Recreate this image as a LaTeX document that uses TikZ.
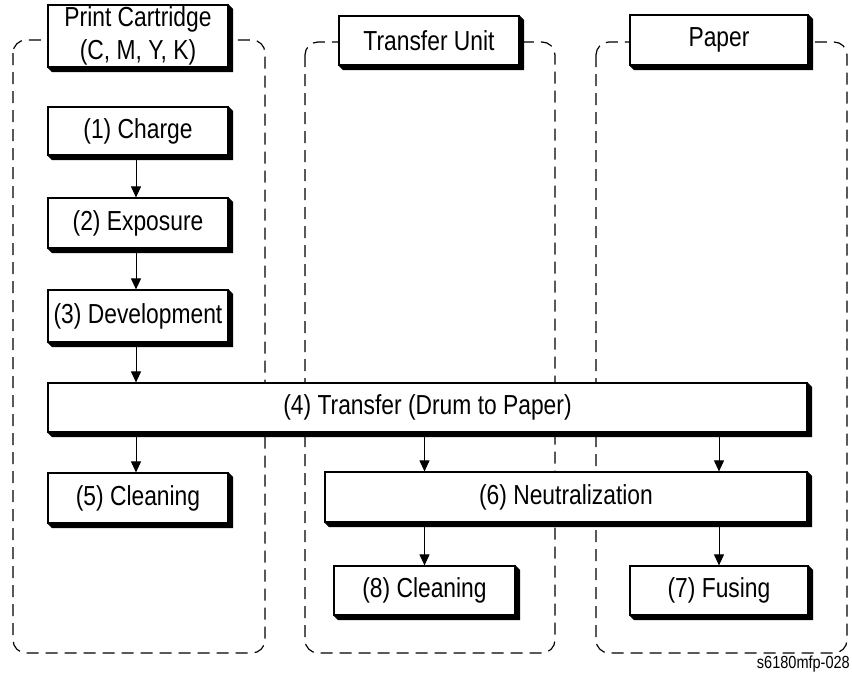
\documentclass[tikz,border=0pt]{standalone}
\usepackage{fontspec}
\setmainfont{Liberation Sans}[FakeStretch=0.83]
\usetikzlibrary{arrows.meta,calc}

\tikzset{
  stage/.style={draw=black, line width=1.2pt, fill=white, inner sep=0pt,
    align=center, font=\fontsize{27.5}{33}\selectfont},
  group/.style={draw=black, line width=1.2pt, dash pattern=on 12pt off 7pt,
    rounded corners=13pt},
  flow/.style={line width=1pt, -{Triangle[length=11pt,width=10pt]}},
}

% box of the given size, centred at a point
\newcommand{\stagebox}[6]{%
  \node[stage, minimum width=#4pt, minimum height=#5pt] (#1) at (#2,#3) {#6};}

\begin{document}
\begin{tikzpicture}[x=1pt, y=-1pt]
\useasboundingbox (0,0) rectangle (852,673);

% dashed unit outlines
\draw[group] (13,40) rectangle (265,653);
\draw[group] (305,42) rectangle (555,653);
\draw[group] (596,42) rectangle (847,653);

% unit headers
\stagebox{hcart}{138}{36}{180}{62}{Print Cartridge\\(C, M, Y, K)}
\stagebox{hunit}{429}{40.5}{180}{49}{Transfer Unit}
\stagebox{hpaper}{719}{40}{178}{50}{Paper}

% process stages
\stagebox{charge}{138}{131}{180}{48}{(1) Charge}
\stagebox{expo}{138}{223}{180}{50}{(2) Exposure}
\stagebox{devel}{138}{316}{180}{52}{(3) Development}
\stagebox{transfer}{427.5}{407.5}{759}{49}{(4) Transfer (Drum to Paper)}
\stagebox{clean5}{138}{498}{180}{50}{(5) Cleaning}
\stagebox{neutral}{566}{497}{482}{50}{(6) Neutralization}
\stagebox{clean8}{424.5}{590.5}{181}{49}{(8) Cleaning}
\stagebox{fusing}{719}{590.5}{178}{49}{(7) Fusing}

% extruded black edge on the right and bottom of every box
\foreach \n in {hcart,hunit,hpaper,charge,expo,devel,transfer,clean5,neutral,clean8,fusing}{
  \fill[black] (\n.north east) -- ([xshift=4.5pt,yshift=-4.5pt]\n.north east)
    -- ([xshift=4.5pt,yshift=-4.5pt]\n.south east)
    -- ([xshift=4.5pt,yshift=-4.5pt]\n.south west)
    -- (\n.south west) -- (\n.south east) -- cycle;
}

% process flow
\draw[flow] ([xshift=-2pt]charge.south) -- ([xshift=-2pt]expo.north);
\draw[flow] ([xshift=-2pt]expo.south) -- ([xshift=-2pt]devel.north);
\draw[flow] ([xshift=-2pt]devel.south) -- ([xshift=-2pt]devel.south |- transfer.north);
\draw[flow] ([xshift=-2pt]clean5.north |- transfer.south) -- ([xshift=-2pt]clean5.north);
\draw[flow] (clean8.north |- transfer.south) -- (clean8.north |- neutral.north);
\draw[flow] (fusing.north |- transfer.south) -- (fusing.north |- neutral.north);
\draw[flow] (clean8.north |- neutral.south) -- (clean8.north);
\draw[flow] (fusing.north |- neutral.south) -- (fusing.north);

% drawing number
\node[anchor=base east, inner sep=0pt, font=\fontsize{17.5}{20}\selectfont] (ref) at (850,668) {s6180mfp-028};
\end{tikzpicture}
\end{document}
